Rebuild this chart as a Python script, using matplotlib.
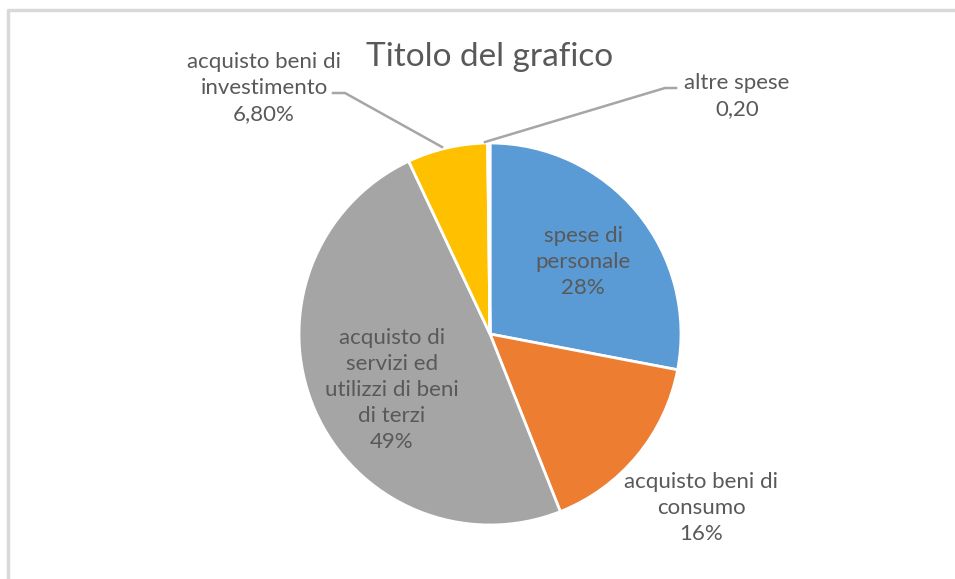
import matplotlib
matplotlib.use("Agg")
import matplotlib.pyplot as plt

categories = ["spese di\npersonale", "acquisto beni di\nconsumo",
              "acquisto di\nservizi ed\nutilizzi di beni\ndi terzi",
              "acquisto beni di\ninvestimento", "altre spese"]
values = [28, 16, 49, 6.8, 0.2]
value_labels = ["28%", "16%", "49%", "6,80%", "0,20"]
colors = ["#5B9BD5", "#ED7D31", "#A5A5A5", "#FFC000", "#4472C4"]
title = "Titolo del grafico"

plt.rcParams['font.family'] = ['Lato', 'DejaVu Sans']
W, H = 955, 579
fig = plt.figure(figsize=(W / 100, H / 100), dpi=100)
ax = fig.add_axes([0, 0, 1, 1])

cx, cy, r = 490, 334, 191
# y axis is inverted (pixel-like coordinates): startangle -90 = top, ccw in data = clockwise on screen
wedges, _ = ax.pie(values, colors=colors, startangle=-90, counterclock=True,
                   center=(cx, cy), radius=r,
                   wedgeprops=dict(edgecolor='white', linewidth=2))
ax.set_xlim(0, W)
ax.set_ylim(H, 0)
ax.set_aspect('equal')
ax.axis('off')

# frame border (top and left visible)
ax.plot([8, 8, W + 5], [H + 5, 10, 10], color='#D9D9D9', lw=2.5, clip_on=False)

tc = '#595959'
fs = 16
ax.text(cx, 57, title, ha='center', va='center', fontsize=24, color=tc)

pos = [(583, 262), (701, 508), (392, 390), (264, 88), (737, 96)]
for cat, vl, (x, y) in zip(categories, value_labels, pos):
    ax.text(x, y, cat + "\n" + vl, ha='center', va='center', fontsize=fs,
            color=tc, linespacing=1.38)

# leader lines
ax.plot([333, 345, 442], [93, 93, 147], color='#A6A6A6', lw=1.8)
ax.plot([676, 665, 485], [88, 88, 142], color='#A6A6A6', lw=1.8)

fig.savefig("out.png", dpi=100)
